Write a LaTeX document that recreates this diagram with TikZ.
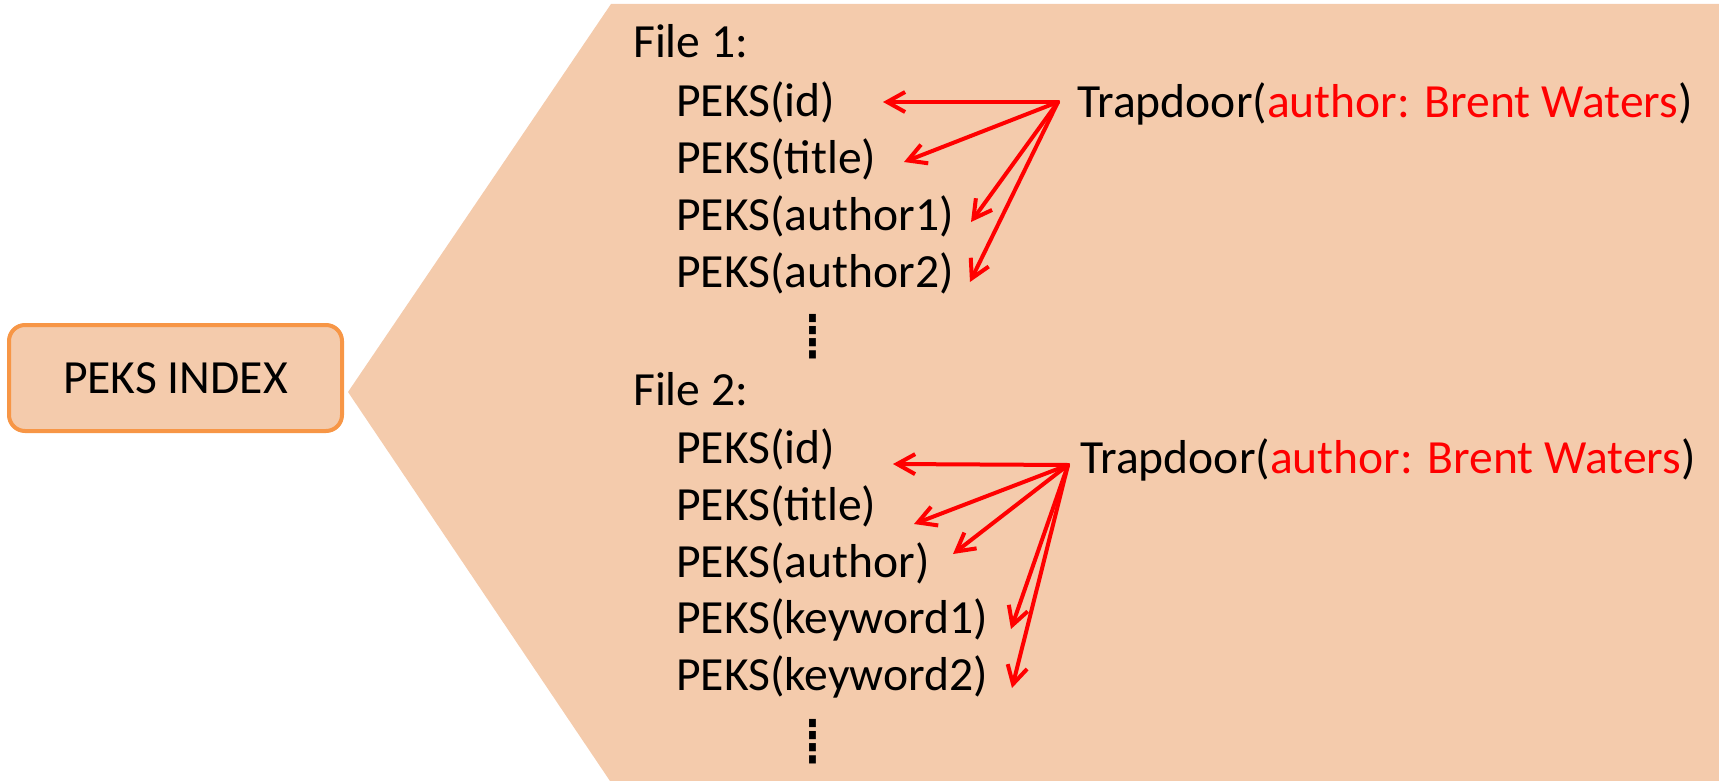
\documentclass[tikz,border=0pt]{standalone}
\usepackage{fontspec}
\setmainfont{Carlito}
\newfontfamily\dejavu{DejaVu Sans}
\usetikzlibrary{arrows.meta}
\definecolor{peach}{HTML}{F4CBAC}
\definecolor{orangeline}{HTML}{F79646}
\definecolor{redarrow}{HTML}{FF0000}
\begin{document}
\begin{tikzpicture}[x=1pt,y=-1pt,
  txt/.style={anchor=base west,inner sep=0pt,font=\fontsize{47.6}{57}\selectfont},
  dotsnode/.style={anchor=north,inner sep=0pt,font=\dejavu\fontsize{66}{70}\selectfont},
  ptr/.style={draw=redarrow,line width=4pt,line cap=round,line join=round,
     -{Straight Barb[length=18pt,width=20pt,line width=4pt]}}]
\useasboundingbox (0,0) rectangle (1719,781);
% background shape
\fill[peach] (611,4) -- (1719,4) -- (1719,781) -- (610,781) -- (348,392) -- cycle;
% index box
\node[draw=orangeline,fill=peach,line width=4pt,rounded corners=16pt,
  minimum width=333pt,minimum height=106pt,inner sep=0pt,
  font=\fontsize{47.6}{57}\selectfont] (index) at (175.5,378) {PEKS INDEX};
% file 1
\node[txt] (f1) at (633,58) {File 1:};
\node[txt] (f1id) at (676,117) {PEKS(id)};
\node[txt] (f1title) at (676,173) {PEKS(title)};
\node[txt] (f1a1) at (676,230) {PEKS(author1)};
\node[txt] (f1a2) at (676,287) {PEKS(author2)};
\node[dotsnode] (d1) at (813,314) {⁞};
\node[txt] (td1) at (1077,118) {Trapdoor(\textcolor{redarrow}{author: Brent Waters})};
% file 2
\node[txt] (f2) at (633,405) {File 2:};
\node[txt] (f2id) at (676,463) {PEKS(id)};
\node[txt] (f2title) at (676,520) {PEKS(title)};
\node[txt] (f2a) at (676,577) {PEKS(author)};
\node[txt] (f2k1) at (676,633) {PEKS(keyword1)};
\node[txt] (f2k2) at (676,690) {PEKS(keyword2)};
\node[dotsnode] (d2) at (813,719) {⁞};
\node[txt] (td2) at (1080,473) {Trapdoor(\textcolor{redarrow}{author: Brent Waters})};
% arrow points
\coordinate (a1) at (1058,102);
\coordinate (e1id) at (883,102);
\coordinate (e1title) at (904,162);
\coordinate (e1a1) at (971,222);
\coordinate (e1a2) at (970,282);
\coordinate (a2) at (1068,465);
\coordinate (e2id) at (893,464);
\coordinate (e2title) at (914,524);
\coordinate (e2a) at (953,554);
\coordinate (e2k1) at (1011,629);
\coordinate (e2k2) at (1012,688);
\foreach \e in {e1id,e1title,e1a1,e1a2} \draw[ptr] (a1) -- (\e);
\foreach \e in {e2id,e2title,e2a,e2k1,e2k2} \draw[ptr] (a2) -- (\e);
\end{tikzpicture}
\end{document}
